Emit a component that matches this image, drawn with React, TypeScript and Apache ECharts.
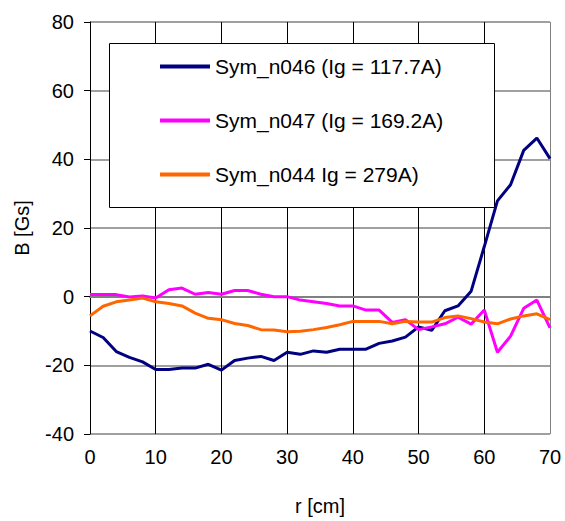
import React, { useEffect, useRef } from "react";
import * as echarts from "echarts";

const rValues = [0, 2, 4, 6, 8, 10, 12, 14, 16, 18, 20, 22, 24, 26, 28, 30, 32, 34, 36, 38, 40, 42, 44, 46, 48, 50, 52, 54, 56, 58, 60, 62, 64, 66, 68, 70];

const symN046 = [-10, -11.9, -16, -17.7, -19, -21.2, -21.2, -20.8, -20.8, -19.7, -21.4, -18.6, -17.9, -17.4, -18.6, -16.2, -16.8, -15.8, -16.2, -15.3, -15.3, -15.3, -13.6, -12.9, -11.8, -8.8, -9.8, -4.1, -2.7, 1.6, 14.6, 27.9, 32.6, 42.6, 46.2, 40.2];

const symN047 = [0.6, 0.6, 0.6, -0.1, 0.2, -0.4, 2, 2.5, 0.7, 1.2, 0.7, 1.8, 1.8, 0.7, 0, 0, -1, -1.5, -2, -2.7, -2.7, -3.9, -3.9, -7.5, -6.7, -9.6, -8.8, -7.9, -6, -8, -3.9, -16.2, -11.5, -3.4, -1, -9.1];

const symN044 = [-5.6, -2.8, -1.5, -1, -0.4, -1.5, -2, -2.7, -4.8, -6.3, -6.7, -7.8, -8.4, -9.6, -9.7, -10.2, -10.1, -9.6, -9, -8.2, -7.2, -7.2, -7.2, -7.9, -7.2, -7.4, -7.4, -6.1, -5.6, -6.4, -7.4, -7.9, -6.5, -5.6, -5, -6.7];

const seriesNames = ["Sym_n046 (Ig = 117.7A)", "Sym_n047 (Ig = 169.2A)", "Sym_n044 Ig = 279A)"];
const seriesColors = ["#000080", "#FF00FF", "#FF6600"];
const seriesData = [symN046, symN047, symN044];

const xAxisName = "r [cm]";
const yAxisName = "B [Gs]";

const FONT = "'Liberation Sans', Arial, sans-serif";

export default function App() {
  const ref = useRef<HTMLDivElement>(null);
  useEffect(() => {
    if (!ref.current) return;
    const chart = echarts.init(ref.current, undefined, { renderer: "svg" });
    chart.setOption({
      animation: false,
      backgroundColor: "#ffffff",
      textStyle: { fontFamily: FONT },
      grid: { left: 90, right: 15, top: 22, bottom: 77, containLabel: false },
      graphic: [
        {
          type: "rect",
          left: 109,
          top: 43,
          z: 1,
          shape: { width: 385, height: 164 },
          style: { fill: "#ffffff", stroke: "#000000", lineWidth: 1 },
        },
      ],
      legend: {
        orient: "vertical",
        left: 155,
        top: 51,
        z: 5,
        itemWidth: 50,
        itemHeight: 4,
        itemGap: 33,
        icon: "rect",
        textStyle: { fontFamily: FONT, fontSize: 21, color: "#000", lineHeight: 20 },
        data: seriesNames,
      },
      xAxis: {
        type: "value",
        min: 0,
        max: 70,
        interval: 10,
        name: xAxisName,
        nameLocation: "middle",
        nameGap: 62,
        nameTextStyle: { fontFamily: FONT, fontSize: 20, color: "#000" },
        axisLine: { show: true, lineStyle: { color: "#808080", width: 2 } },
        axisTick: { show: true, inside: true, length: 0 },
        axisLabel: { fontFamily: FONT, fontSize: 20, color: "#000", margin: 13 },
        splitLine: {
          show: true,
          lineStyle: { color: ["#000", "#000", "#000", "#000", "#000", "#000", "#000", "#808080"], width: 1 },
        },
      },
      yAxis: {
        type: "value",
        min: -40,
        max: 80,
        interval: 20,
        name: yAxisName,
        nameLocation: "middle",
        nameGap: 58,
        nameTextStyle: { fontFamily: FONT, fontSize: 20, color: "#000" },
        axisLine: { show: true, onZero: false, lineStyle: { color: "#000", width: 1 } },
        axisTick: { show: true, length: 6, lineStyle: { color: "#000" } },
        axisLabel: { fontFamily: FONT, fontSize: 20, color: "#000", margin: 16 },
        splitLine: { show: true, lineStyle: { color: "#808080", width: 1.5 } },
      },
      series: seriesNames.map((name, i) => ({
        name,
        type: "line",
        z: 2,
        showSymbol: false,
        symbol: "none",
        color: seriesColors[i],
        lineStyle: { color: seriesColors[i], width: 3 },
        data: rValues.map((r, j) => [r, seriesData[i][j]]),
      })),
    });
    return () => chart.dispose();
  }, []);
  return (
    <div
      ref={ref}
      style={{ position: "fixed", left: 0, top: 0, width: 565, height: 521 }}
    />
  );
}
